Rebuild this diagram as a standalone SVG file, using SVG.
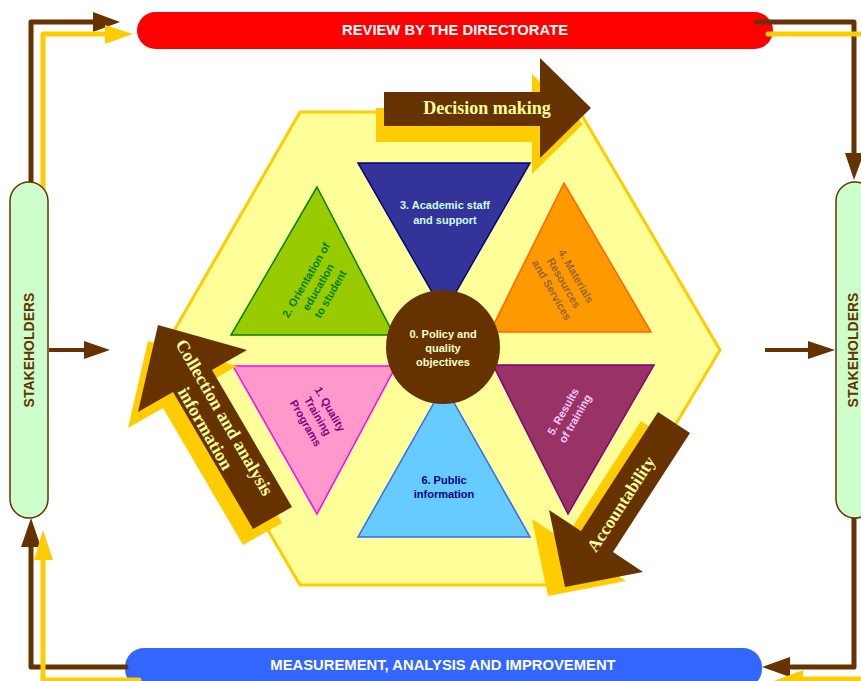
<svg xmlns="http://www.w3.org/2000/svg" width="861" height="681" viewBox="0 0 861 681">
<defs>
<style>
.lbl{font-family:"Liberation Sans",Arial,sans-serif;font-weight:bold;font-size:11px;text-anchor:middle}
.bar{font-family:"Liberation Sans",Arial,sans-serif;font-weight:bold;font-size:14.8px;fill:#FFFFFF;text-anchor:middle}
.stk{font-family:"Liberation Sans",Arial,sans-serif;font-weight:bold;font-size:14px;fill:#663300;text-anchor:middle}
.big{font-family:"Liberation Serif","Times New Roman",serif;font-weight:bold;font-size:18px;fill:#FFFF99;text-anchor:middle}
.br{fill:none;stroke:#663300;stroke-width:5;stroke-linejoin:round;stroke-linecap:round}
.yl{fill:none;stroke:#FFCC00;stroke-width:5;stroke-linejoin:round;stroke-linecap:round}
.brh{fill:#663300}
.ylh{fill:#FFCC00}
</style>
</defs>
<rect width="861" height="681" fill="#FFFFFF"/>

<g id="hexagon">
<polygon points="300,112 580,112 720,350 580,585 300,585 163,350" fill="#FFFF99" stroke="#FFCC00" stroke-width="3"/>
</g>

<g id="t3">
<polygon points="358,163 530,163 444,313" fill="#333399" stroke="#000080" stroke-width="1.5"/>
<text class="lbl" x="445" y="209" fill="#CCFFFF">3. Academic staff</text>
<text class="lbl" x="445" y="224" fill="#CCFFFF">and support</text>
</g>
<g id="t2">
<polygon points="317,187 231,335 394,335" fill="#99CC00" stroke="#008000" stroke-width="1.5"/>
<g transform="translate(318,287) rotate(-60)">
<text class="lbl" x="0" y="-10" fill="#008000">2. Orientation of</text>
<text class="lbl" x="0" y="4" fill="#008000">education</text>
<text class="lbl" x="0" y="18" fill="#008000">to student</text>
</g>
</g>
<g id="t4">
<polygon points="564,183 490,332 651,332" fill="#FF9900" stroke="#FF6600" stroke-width="1.5"/>
<g transform="translate(564,283) rotate(60)">
<text class="lbl" x="0" y="-10" fill="#996633">4. Materials</text>
<text class="lbl" x="0" y="4" fill="#996633">Resources</text>
<text class="lbl" x="0" y="18" fill="#996633">and Services</text>
</g>
</g>
<g id="t1">
<polygon points="233,366 396,366 317,514" fill="#FF99CC" stroke="#FF00FF" stroke-width="1.5"/>
<g transform="translate(318,416) rotate(60)">
<text class="lbl" x="0" y="-10" fill="#800080">1. Quality</text>
<text class="lbl" x="0" y="4" fill="#800080">Training</text>
<text class="lbl" x="0" y="18" fill="#800080">Programs</text>
</g>
</g>
<g id="t5">
<polygon points="493,365 654,365 568,514" fill="#993366" stroke="#800080" stroke-width="1.5"/>
<g transform="translate(569,415) rotate(-60)">
<text class="lbl" x="0" y="-3" fill="#FFCCFF">5. Results</text>
<text class="lbl" x="0" y="11" fill="#FFCCFF">of training</text>
</g>
</g>
<g id="t6">
<polygon points="444,385 358,537 530,537" fill="#66CCFF" stroke="#3366FF" stroke-width="1.5"/>
<text class="lbl" x="444" y="484" fill="#000080">6. Public</text>
<text class="lbl" x="444" y="498" fill="#000080">information</text>
</g>
<g id="center">
<circle cx="443" cy="347" r="57" fill="#663300"/>
<text class="lbl" x="443" y="338" fill="#FFFFCC">0. Policy and</text>
<text class="lbl" x="443" y="352" fill="#FFFFCC">quality</text>
<text class="lbl" x="443" y="366" fill="#FFFFCC">objectives</text>
</g>

<g id="decision">
<polygon transform="translate(-8,16)" class="ylh" points="384,92 540,92 540,58 591,108 540,158 540,126 384,126"/>
<polygon class="brh" points="384,92 540,92 540,58 591,108 540,158 540,126 384,126"/>
<text class="big" x="487" y="114">Decision making</text>
</g>
<g id="collection">
<polygon transform="translate(-10,16)" class="ylh" points="158,325 247,350 212,370 292,507 253,529 173,392 138,412"/>
<polygon class="brh" points="158,325 247,350 212,370 292,507 253,529 173,392 138,412"/>
<g transform="translate(215,423) rotate(60)">
<text class="big" x="0" y="-5">Collection and analysis</text>
<text class="big" x="0" y="17">information</text>
</g>
</g>
<g id="accountability">
<polygon transform="translate(-17,9)" class="ylh" points="565,587 549,510 581,531 658,412 690,433 613,552 643,572"/>
<polygon class="brh" points="565,587 549,510 581,531 658,412 690,433 613,552 643,572"/>
<text class="big" transform="translate(621,504) rotate(-57)" x="0" y="6" style="font-size:17.5px">Accountability</text>
</g>

<g id="review">
<rect x="137" y="12" width="636" height="37" rx="18.5" fill="#FF0000"/>
<text class="bar" x="455" y="35">REVIEW BY THE DIRECTORATE</text>
</g>
<g id="measurement">
<rect x="125" y="648" width="637" height="40" rx="19" fill="#3366FF"/>
<text class="bar" x="443" y="670">MEASUREMENT, ANALYSIS AND IMPROVEMENT</text>
</g>

<g id="connectors">
<polyline class="br" points="31,190 31,22 94,22"/>
<polygon class="brh" points="93,12 120,22 93,32"/>
<polyline class="yl" points="43,195 43,34 106,34"/>
<polygon class="ylh" points="105,25 133,34 105,44"/>
<polyline class="br" points="757,22 854,22 854,154"/>
<polygon class="brh" points="845,153 854,180 864,153"/>
<polyline class="yl" points="768,34 866,34 866,170"/>
<polyline class="br" points="126,667 31,667 31,546"/>
<polygon class="brh" points="21,547 31,518 41,547"/>
<polyline class="yl" points="139,680 43,680 43,558"/>
<polygon class="ylh" points="34,560 43,530 53,560"/>
<polyline class="br" points="854,512 854,667 791,667"/>
<polygon class="brh" points="790,657 762,667 790,677"/>
<polyline class="yl" points="866,520 866,679 802,679"/>
<polygon class="ylh" points="803,670 774,681 803,692"/>
<line x1="49" y1="350" x2="86" y2="350" stroke="#663300" stroke-width="4"/>
<polygon class="brh" points="84,341 110,350 84,359"/>
<line x1="765" y1="350" x2="810" y2="350" stroke="#663300" stroke-width="4"/>
<polygon class="brh" points="808,341 835,350 808,359"/>
</g>

<g id="stakeholders-left">
<rect x="10" y="182" width="38" height="336" rx="19" fill="#CCFFCC" stroke="#663300" stroke-width="1.5"/>
<text class="stk" transform="translate(34,350) rotate(-90)" x="0" y="0">STAKEHOLDERS</text>
</g>
<g id="stakeholders-right">
<rect x="836" y="182" width="38" height="336" rx="19" fill="#CCFFCC" stroke="#663300" stroke-width="1.5"/>
<text class="stk" transform="translate(858,350) rotate(-90)" x="0" y="0">STAKEHOLDERS</text>
</g>
</svg>
